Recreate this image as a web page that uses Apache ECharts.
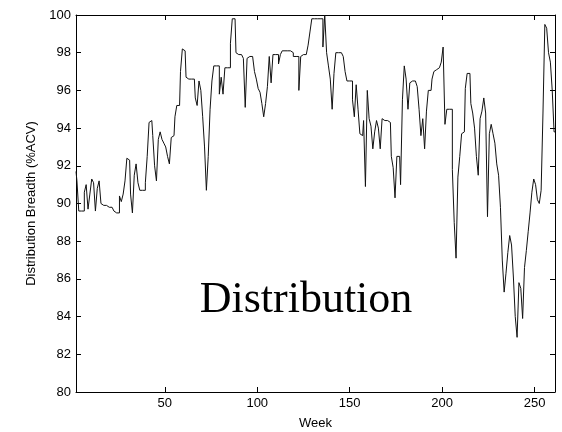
<!DOCTYPE html>
<html>
<head>
<meta charset="utf-8">
<script src="https://cdn.jsdelivr.net/npm/echarts@6/dist/echarts.min.js"></script>
<style>
  html, body { margin: 0; padding: 0; background: #fff; }
  #chart { width: 562px; height: 432px; }
</style>
</head>
<body>
<div id="chart"></div>
<script>
// weeks 2..261, one value per week
const firstWeek = 2;
const breadth = [
  91.7, 91.2, 89.6, 89.6, 89.6, 90.6, 91.0, 89.7, 90.5, 91.3,
  91.1, 89.6, 90.8, 91.2, 90.0, 89.9, 89.9, 89.8, 89.8, 89.8,
  89.7, 89.6, 89.5, 89.5, 90.4, 90.1, 90.5, 91.2, 92.4, 92.3,
  90.5, 89.5, 91.5, 92.1, 91.1, 90.7, 90.7, 90.7, 91.1, 92.5,
  94.3, 94.4, 93.6, 92.0, 91.2, 93.4, 93.8, 93.4, 93.2, 93.0,
  92.5, 92.1, 93.5, 93.6, 94.6, 95.2, 95.2, 97.0, 98.2, 98.1,
  96.7, 96.6, 96.6, 96.6, 96.6, 95.6, 95.2, 96.5, 96.0, 94.6,
  93.0, 90.7, 92.5, 95.0, 96.5, 97.3, 97.3, 97.3, 95.8, 96.7,
  95.8, 97.2, 97.2, 97.2, 98.5, 99.8, 99.8, 98.0, 97.9, 97.9,
  97.8, 97.7, 95.1, 97.7, 97.8, 97.8, 97.7, 97.0, 96.6, 96.1,
  95.9, 95.3, 94.6, 95.3, 96.2, 97.8, 96.4, 97.9, 97.9, 97.9,
  97.4, 97.9, 98.1, 98.1, 98.1, 98.1, 98.1, 98.0, 97.8, 97.8,
  97.8, 96.0, 97.8, 97.9, 97.9, 97.9, 98.4, 99.1, 99.8, 99.8,
  99.8, 99.8, 99.8, 99.8, 98.3, 100.0, 98.0, 97.3, 96.6, 95.0,
  96.9, 98.0, 98.0, 98.0, 98.0, 97.8, 97.0, 96.5, 96.5, 96.5,
  95.5, 94.6, 96.3, 95.0, 93.7, 93.6, 94.4, 90.9, 96.0, 94.5,
  94.1, 92.9, 93.8, 94.4, 94.0, 92.9, 94.5, 94.4, 94.4, 94.4,
  94.3, 92.5, 91.9, 90.3, 92.5, 92.5, 91.0, 95.5, 97.3, 96.6,
  95.0, 96.4, 96.5, 96.5, 96.5, 96.2, 95.0, 93.6, 94.5, 92.9,
  94.9, 96.0, 96.0, 96.6, 97.0, 97.1, 97.2, 97.3, 97.5, 98.3,
  94.2, 95.0, 95.0, 95.0, 91.8, 89.0, 87.1, 91.4, 92.5, 93.7,
  93.8, 96.1, 96.9, 96.9, 95.3, 94.8, 94.0, 92.5, 91.5, 94.5,
  94.9, 95.6, 94.8, 89.3, 93.7, 94.2, 93.7, 93.2, 92.1, 91.5,
  89.8, 87.0, 85.3, 86.3, 87.4, 88.3, 87.8, 86.1, 84.0, 82.9,
  85.8, 85.5, 83.9, 86.6, 87.5, 88.5, 89.5, 90.6, 91.3, 91.0,
  90.2, 90.0, 90.7, 94.8, 99.5, 99.3, 98.0, 97.5, 96.0, 93.8
];
const xTicks = [50, 100, 150, 200, 250];
const yMin = 80, yMax = 100, yStep = 2;
const xMin = 2, xMax = 261;

const points = breadth.map((v, i) => [firstWeek + i, v]);

const chart = echarts.init(document.getElementById('chart'), null, { renderer: 'canvas' });

const axisFont = { fontFamily: 'Liberation Sans, Arial, sans-serif', fontSize: 13, color: '#000' };
const lineStyle = { color: '#000', width: 1 };

chart.setOption({
  animation: false,
  backgroundColor: '#fff',
  grid: { left: 76, right: 7, top: 15, bottom: 40, outerBoundsMode: 'none', containLabel: false },
  xAxis: [
    {
      type: 'value', min: xMin, max: xMax, position: 'bottom',
      name: 'Week', nameLocation: 'middle', nameGap: 25,
      nameTextStyle: axisFont,
      axisLine: { lineStyle },
      axisTick: { inside: true, length: 5, lineStyle, customValues: xTicks },
      axisLabel: Object.assign({ margin: 5, customValues: xTicks }, axisFont),
      splitLine: { show: false }
    },
    {
      type: 'value', min: xMin, max: xMax, position: 'top',
      axisLine: { lineStyle },
      axisTick: { inside: true, length: 5, lineStyle, customValues: xTicks },
      axisLabel: { show: false },
      splitLine: { show: false }
    }
  ],
  yAxis: [
    {
      type: 'value', min: yMin, max: yMax, interval: yStep, position: 'left',
      name: 'Distribution Breadth (%ACV)', nameLocation: 'middle', nameGap: 38,
      nameTextStyle: axisFont,
      axisLine: { show: true, lineStyle },
      axisTick: { show: true, inside: true, length: 5, lineStyle },
      axisLabel: Object.assign({ margin: 5 }, axisFont),
      splitLine: { show: false }
    },
    {
      type: 'value', min: yMin, max: yMax, interval: yStep, position: 'right',
      axisLine: { show: true, lineStyle },
      axisTick: { show: true, inside: true, length: 5, lineStyle },
      axisLabel: { show: false },
      splitLine: { show: false }
    }
  ],
  series: [{
    type: 'line',
    data: points,
    xAxisIndex: 0,
    yAxisIndex: 0,
    step: 'middle',
    showSymbol: false,
    symbol: 'none',
    lineStyle: { color: '#111', width: 1 },
    clip: true
  }],
  graphic: [{
    type: 'text',
    x: 306,
    y: 300,
    style: {
      text: 'Distribution',
      font: '44px "Liberation Serif", "DejaVu Serif", serif',
      fill: '#000',
      textAlign: 'center',
      textVerticalAlign: 'middle'
    }
  }]
});
</script>
</body>
</html>
